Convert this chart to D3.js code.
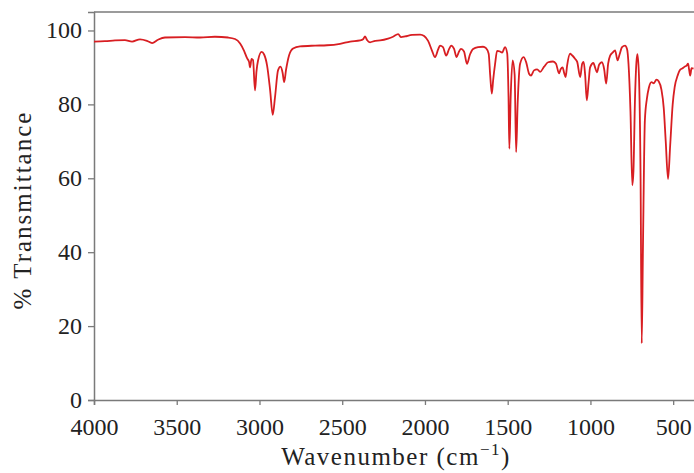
<!DOCTYPE html>
<html>
<head>
<meta charset="utf-8">
<script src="https://cdn.jsdelivr.net/npm/d3@7"></script>
<style>
  html, body { margin: 0; padding: 0; background: #fff; }
  svg { display: block; }
  .tick text { font-family: "Liberation Serif", serif; font-size: 24px; fill: #222; }
  .lbl { font-family: "Liberation Serif", serif; font-size: 25px; fill: #222; }
</style>
</head>
<body>
<svg id="chart" width="694" height="473"></svg>
<script>
// IR spectrum
const wavenumber = [
  4000, 3934, 3873, 3813, 3770, 3722, 3680, 3649, 3613, 3571, 3450, 3359, 3269, 3190, 3148,
  3117, 3093, 3075, 3063, 3057, 3048, 3039, 3027, 3018, 3009, 2987, 2972, 2954, 2936, 2920,
  2906, 2888, 2873, 2860, 2851, 2839, 2821, 2797, 2755, 2664, 2592, 2513, 2452, 2392, 2374,
  2362, 2350, 2332, 2301, 2271, 2223, 2193, 2162, 2144, 2120, 2078, 2029, 2005, 1981, 1957,
  1939, 1921, 1909, 1891, 1872, 1854, 1842, 1824, 1809, 1794, 1782, 1764, 1746, 1728, 1709,
  1679, 1649, 1631, 1615, 1606, 1596, 1588, 1576, 1564, 1546, 1534, 1516, 1503, 1495, 1490,
  1482, 1470, 1458, 1449, 1440, 1425, 1404, 1389, 1371, 1359, 1341, 1322, 1304, 1280, 1256,
  1226, 1208, 1190, 1180, 1168, 1159, 1150, 1141, 1123, 1111, 1092, 1080, 1062, 1050, 1041,
  1032, 1022, 1011, 1002, 982, 972, 961, 947, 931, 917, 905, 893, 881, 866, 851,
  836, 824, 809, 791, 779, 770, 758, 747, 740, 731, 722, 716, 707, 697, 690,
  683, 671, 659, 647, 631, 617, 601, 587, 571, 557, 545, 531, 518, 503, 491,
  473, 461, 443, 431, 419, 410, 404, 397, 389, 377
];
const transmittance = [
  97.0, 97.1, 97.3, 97.4, 97.0, 97.6, 97.2, 96.6, 97.5, 98.1, 98.2, 98.1, 98.3, 98.1, 97.7,
  96.5, 94.5, 92.5, 91.5, 90.0, 92.3, 92.0, 83.8, 89.0, 91.8, 94.2, 93.5, 90.5, 84.0, 77.2,
  82.0, 89.2, 90.2, 88.5, 86.0, 89.5, 93.3, 95.1, 95.7, 95.9, 96.0, 96.4, 97.0, 97.3, 97.6,
  98.4, 97.4, 96.8, 97.2, 97.3, 97.8, 98.3, 99.0, 98.2, 98.4, 98.8, 98.9, 98.5, 97.2, 94.5,
  92.8, 94.8, 95.9, 95.5, 93.2, 95.0, 95.9, 95.0, 92.8, 94.3, 95.0, 94.3, 91.0, 93.5, 95.0,
  95.5, 95.6, 95.2, 93.7, 88.0, 82.9, 86.5, 91.0, 94.5, 94.3, 94.0, 95.5, 93.8, 82.0, 68.0,
  82.0, 91.9, 88.0, 67.1, 80.0, 91.0, 92.8, 91.5, 88.3, 87.8, 89.2, 89.5, 88.8, 90.2, 91.4,
  91.6, 91.0, 88.4, 89.5, 90.0, 88.5, 87.4, 90.5, 93.7, 93.3, 92.3, 91.5, 87.4, 91.0, 91.5,
  88.0, 81.1, 86.0, 90.0, 91.2, 90.0, 88.7, 90.8, 91.4, 89.5, 85.6, 91.0, 93.2, 94.0, 94.6,
  91.9, 93.5, 95.5, 95.9, 95.0, 91.0, 78.0, 58.1, 62.0, 81.0, 91.5, 93.6, 88.0, 60.0, 15.3,
  40.0, 75.7, 81.5, 84.5, 86.0, 85.7, 86.7, 86.2, 84.0, 79.0, 70.0, 59.8, 69.0, 80.0, 84.7,
  87.8, 89.2, 89.8, 90.2, 90.5, 91.0, 89.5, 87.8, 89.8, 89.7
];
const xTicks = [4000, 3500, 3000, 2500, 2000, 1500, 1000, 500];
const yTicks = [0, 20, 40, 60, 80, 100];
const xDomain = [4000, 350];
const yDomain = [0, 105];

const data = wavenumber.map((w, i) => ({ w: w, t: transmittance[i] }));

const svg = d3.select("#chart");
const mLeft = 94, mRight = 698, mTop = 12, mBottom = 400;

const x = d3.scaleLinear().domain(xDomain).range([mLeft, mRight]);
const y = d3.scaleLinear().domain(yDomain).range([mBottom, mTop]);

const axisColor = "#7a7a7a";

svg.append("line")
  .attr("x1", mLeft).attr("x2", mRight).attr("y1", mTop).attr("y2", mTop)
  .attr("stroke", axisColor).attr("stroke-width", 1.5);
svg.append("line")
  .attr("x1", mRight).attr("x2", mRight).attr("y1", mTop).attr("y2", mBottom)
  .attr("stroke", axisColor).attr("stroke-width", 1.5);

const xAxis = svg.append("g")
  .attr("transform", `translate(0,${mBottom})`)
  .call(d3.axisBottom(x).tickValues(xTicks).tickFormat(d3.format("d")).tickSize(5).tickPadding(12));
const yAxis = svg.append("g")
  .attr("transform", `translate(${mLeft},0)`)
  .call(d3.axisLeft(y).tickValues(yTicks).tickFormat(d3.format("d")).tickSize(6).tickPadding(6));

[xAxis, yAxis].forEach(g => {
  g.select(".domain").attr("stroke", axisColor).attr("stroke-width", 1.5);
  g.selectAll(".tick line").attr("stroke", axisColor).attr("stroke-width", 1.3);
});
xAxis.selectAll(".tick text").attr("dy", "0.74em");
yAxis.selectAll(".tick text").attr("dy", "0.3em");

const line = d3.line()
  .x(d => x(d.w))
  .y(d => y(d.t))
  .curve(d3.curveMonotoneX);

svg.append("path")
  .datum(data)
  .attr("fill", "none")
  .attr("stroke", "#d81e22")
  .attr("stroke-width", 1.8)
  .attr("stroke-linejoin", "round")
  .attr("d", line);

const xl = svg.append("text")
  .attr("class", "lbl")
  .attr("x", (mLeft + mRight) / 2)
  .attr("y", 465)
  .attr("text-anchor", "middle")
  .style("letter-spacing", "1.5px");
xl.append("tspan").text("Wavenumber (cm");
xl.append("tspan").attr("dy", -10).style("font-size", "17px").text("\u22121");
xl.append("tspan").attr("dy", 10).text(")");

svg.append("text")
  .attr("class", "lbl")
  .attr("transform", `translate(31,${(mTop + mBottom) / 2 + 4}) rotate(-90)`)
  .attr("text-anchor", "middle")
  .style("letter-spacing", "2px")
  .text("% Transmittance");
</script>
</body>
</html>
